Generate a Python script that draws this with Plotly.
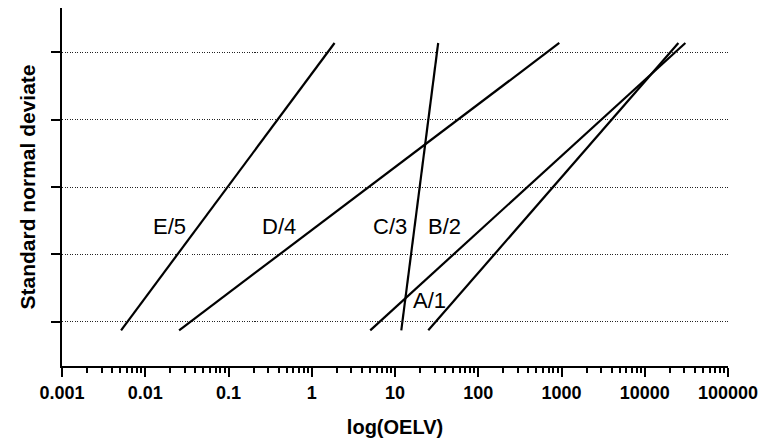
import math
import plotly.graph_objects as go

# Data (x in OELV units, y as standard normal deviate)
series_names = ["E/5", "D/4", "C/3", "B/2", "A/1"]
x_low = [0.00512, 0.0255, 11.9, 5.04, 25.1]
x_high = [1.88, 941, 33.0, 30750, 25350]
z_low = [-2.13, -2.13, -2.13, -2.13, -2.13]
z_high = [2.14, 2.14, 2.14, 2.14, 2.14]

label_x = [0.0193, 0.405, 8.75, 39.0, 25.8]
label_y = [-0.59, -0.59, -0.59, -0.59, -1.68]

y_ticks = [-2, -1, 0, 1, 2]
x_ticks = [0.001, 0.01, 0.1, 1, 10, 100, 1000, 10000, 100000]
x_tick_text = ["0.001", "0.01", "0.1", "1", "10", "100", "1000", "10000", "100000"]

FONT = "Liberation Sans, Arial, sans-serif"

fig = go.Figure()
for i, name in enumerate(series_names):
    fig.add_trace(go.Scatter(
        x=[x_low[i], x_high[i]], y=[z_low[i], z_high[i]],
        mode="lines", name=name,
        line=dict(color="black", width=2.2),
        showlegend=False, hoverinfo="skip",
    ))
    fig.add_annotation(
        x=math.log10(label_x[i]), y=label_y[i],
        text=name, showarrow=False,
        font=dict(family=FONT, size=22, color="black"),
        xanchor="center", yanchor="middle",
    )

fig.update_layout(
    width=773, height=444,
    margin=dict(l=62, r=45, t=8, b=78),
    paper_bgcolor="white", plot_bgcolor="white",
    font=dict(family=FONT, color="black"),
)
fig.update_xaxes(
    type="log", range=[-3, 5],
    tickvals=x_ticks, ticktext=x_tick_text,
    tickfont=dict(family=FONT, size=18, color="black", weight="bold"),
    ticks="outside", ticklen=9, tickwidth=2, tickcolor="black",
    showline=True, linecolor="black", linewidth=2.2,
    showgrid=False, zeroline=False,
    minor=dict(ticks="outside", ticklen=5, tickwidth=1.6, tickcolor="black",
               dtick="D1", showgrid=False),
    title=dict(text="<b>log(OELV)</b>", font=dict(family=FONT, size=20, color="black"),
               standoff=18),
)
fig.update_yaxes(
    range=[-2.66, 2.66],
    tickvals=y_ticks, showticklabels=False,
    ticks="outside", ticklen=9, tickwidth=2, tickcolor="black",
    showline=True, linecolor="black", linewidth=2.2,
    showgrid=True, gridcolor="#222222", gridwidth=1, griddash="1px,1.5px",
    zeroline=False,
    title=dict(text="<b>Standard normal deviate</b>", font=dict(family=FONT, size=21, color="black"),
               standoff=10),
)
fig.write_html("out.html")
